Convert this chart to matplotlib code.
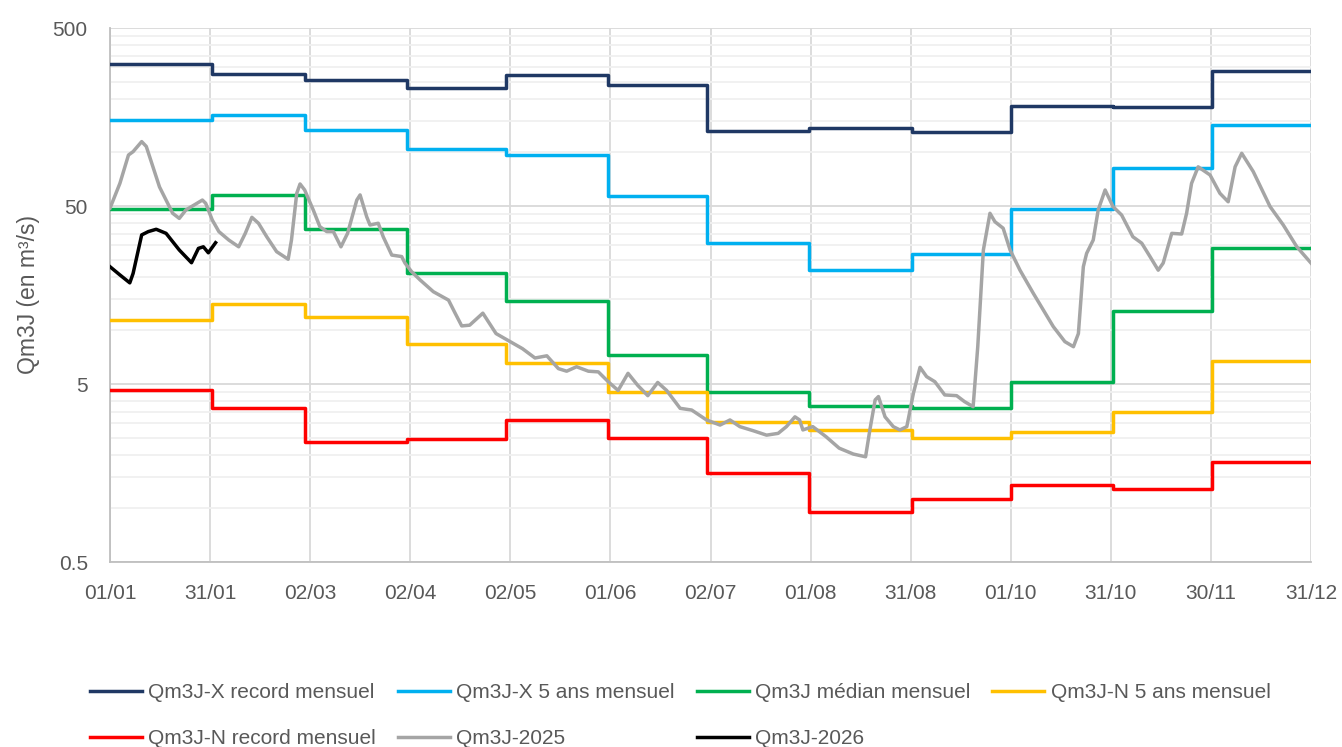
import numpy as np
import matplotlib
matplotlib.use("Agg")
import matplotlib.pyplot as plt
from matplotlib.ticker import FixedLocator, FixedFormatter, NullFormatter

# ---------------- data ----------------
months = ["Jan", "Feb", "Mar", "Apr", "May", "Jun", "Jul", "Aug", "Sep", "Oct", "Nov", "Dec"]
days_in_month = [31, 28, 31, 30, 31, 30, 31, 31, 30, 31, 30, 31]
x_ticklabels = ["01/01", "31/01", "02/03", "02/04", "02/05", "01/06", "02/07",
                "01/08", "31/08", "01/10", "31/10", "30/11", "31/12"]

rec_max = [314, 276, 255, 230, 272, 239, 132, 137, 130, 182, 180, 287]
x5_max = [152, 162, 134, 104, 97, 57, 31, 21.9, 27, 48, 82, 143]
median = [48, 58, 37, 21, 14.6, 7.3, 4.5, 3.76, 3.67, 5.1, 12.9, 29]
n5_min = [11.4, 14.1, 11.9, 8.4, 6.6, 4.5, 3.06, 2.76, 2.5, 2.7, 3.5, 6.7]
rec_min = [4.6, 3.67, 2.36, 2.44, 3.14, 2.5, 1.58, 0.955, 1.13, 1.36, 1.29, 1.82]

days_2025 = [0, 3, 5.6, 7, 9.6, 11, 13, 15, 17, 19, 21, 23, 25, 28, 29, 31, 33, 36, 39, 41,
             43, 45, 47.5, 50.5, 54, 55, 56.6, 57.6, 59, 61.6, 63.6, 65.7, 67.7, 70, 72, 74.8,
             75.8, 77.8, 78.8, 81.3, 82.8, 85.4, 88.4, 89.4, 91.4, 94, 98, 102.6, 104.6, 106.6,
             109, 113, 117, 122, 125, 128.8, 132.4, 135.9, 138.4, 141.4, 145, 148, 151, 154,
             157, 160, 163, 166, 168.7, 172.8, 176.3, 180.8, 184.9, 187.9, 190.9, 195, 199,
             202.5, 205, 207.6, 209, 210, 213, 217, 221, 225.3, 229, 230.3, 231.9, 232.9,
             234.9, 237.4, 239.4, 241.5, 243.5, 245.5, 247.5, 250, 253, 256.6, 259, 261.6,
             263, 264.7, 266.7, 268.2, 270.7, 272.8, 275.8, 279.8, 282.9, 285.9, 289.4, 292,
             293.5, 295, 296, 298, 299.5, 301.6, 304, 306.6, 310, 312.7, 315.2, 317.7, 319.2,
             321.8, 324.8, 326.3, 327.8, 329.8, 333.4, 336.4, 338.9, 341, 343, 346.5, 351.6,
             355.6, 359.7, 364]
q_2025 = [48.6, 67, 96.7, 101, 115, 108, 83, 64, 54, 45.5, 42.6, 47.5, 50, 54, 51.8, 41.7,
          35.9, 32.2, 29.5, 35.1, 43.2, 40, 33.6, 27.7, 25.1, 32.2, 58.9, 66.5, 61.5, 47.5,
          38.3, 35.9, 35.9, 29.5, 35.1, 54, 57.7, 43.5, 39.1, 40, 33.6, 26.5, 26, 23.9, 21.4,
          19.2, 16.5, 14.8, 12.5, 10.6, 10.7, 12.5, 9.6, 8.5, 7.9, 7.0, 7.2, 6.1, 5.9, 6.25,
          5.9, 5.85, 5.15, 4.6, 5.74, 4.9, 4.3, 5.1, 4.6, 3.65, 3.57, 3.14, 2.94, 3.14, 2.88,
          2.73, 2.58, 2.64, 2.88, 3.27, 3.14, 2.76, 2.88, 2.53, 2.18, 2.02, 1.95, 2.76, 4.07,
          4.25, 3.27, 2.88, 2.76, 2.88, 4.44, 6.2, 5.5, 5.15, 4.34, 4.3, 3.98, 3.73, 8.1,
          28.3, 45.5, 40.8, 37.5, 28.3, 21.8, 16.2, 13, 10.5, 8.65, 8.1, 9.6, 22.8, 27.1,
          32.2, 47.5, 61.5, 49.6, 44.5, 33.6, 30.9, 26, 21.8, 23.9, 35.1, 34.8, 45.5, 67, 83,
          74.7, 58.9, 52.8, 83, 98.9, 78, 49.6, 39.1, 29.5, 23.9]

days_2026 = [0, 3, 6, 7, 9.6, 11.6, 14, 17, 21, 24.7, 26.8, 28.3, 29.8, 32]
q_2026 = [22.8, 20.5, 18.5, 20.9, 34.4, 35.9, 37, 35.1, 28.3, 24, 28.9, 29.5, 27.3, 31.1]

y_major = [0.5, 5, 50, 500]
y_major_labels = ["0.5", "5", "50", "500"]

# ---------------- style ----------------
FONT = "Liberation Sans"
TXT = "#595959"
plt.rcParams["font.family"] = [FONT, "DejaVu Sans"]

fig = plt.figure(figsize=(13.42, 7.47), dpi=100)
ax = fig.add_axes([110 / 1342, 1 - 562 / 747, (1311 - 110) / 1342, (562 - 28) / 747])

month_starts = np.concatenate([[0], np.cumsum(days_in_month)[:-1]]).astype(float)
step_x = np.append(month_starts, 364)


def step_series(vals):
    return np.append(vals, vals[-1])


lw = 2.5
series = [
    ("Qm3J-X record mensuel", rec_max, "#1F3864"),
    ("Qm3J-X 5 ans mensuel", x5_max, "#00B0F0"),
    ("Qm3J médian mensuel", median, "#00B050"),
    ("Qm3J-N 5 ans mensuel", n5_min, "#FFC000"),
    ("Qm3J-N record mensuel", rec_min, "#FF0000"),
]
handles = []
for name, vals, col in series:
    h, = ax.step(step_x, step_series(vals), where="post", color=col, lw=lw, label=name, zorder=3)
    handles.append(h)

h25, = ax.plot(days_2025, q_2025, color="#A5A5A5", lw=lw, label="Qm3J-2025", zorder=4,
               solid_joinstyle="round")
h26, = ax.plot(days_2026, q_2026, color="#000000", lw=lw, label="Qm3J-2026", zorder=5,
               solid_joinstyle="round")
handles += [h25, h26]

ax.set_yscale("log")
ax.set_ylim(0.5, 500)
ax.set_xlim(0, 364)

ax.yaxis.set_major_locator(FixedLocator(y_major))
ax.yaxis.set_major_formatter(FixedFormatter(y_major_labels))
minor = [b * k for b in [0.5, 5, 50] for k in range(2, 10)]
ax.yaxis.set_minor_locator(FixedLocator(minor))
ax.yaxis.set_minor_formatter(NullFormatter())

xt = np.linspace(0, 364, len(x_ticklabels))
ax.set_xticks(xt)
ax.set_xticklabels(x_ticklabels)

ax.grid(True, which="major", axis="both", color="#D9D9D9", lw=1.3, zorder=0)
ax.grid(True, which="minor", axis="y", color="#F0F0F0", lw=1.3, zorder=0)
ax.set_axisbelow(True)

for s in ["top", "right"]:
    ax.spines[s].set_visible(False)
for s in ["left", "bottom"]:
    ax.spines[s].set_color("#BFBFBF")
    ax.spines[s].set_linewidth(1.3)

ax.tick_params(axis="both", which="both", length=0, labelsize=15, colors=TXT)
ax.tick_params(axis="x", pad=16)
ax.tick_params(axis="y", pad=16)

ax.set_ylabel("Qm3J (en m³/s)", fontsize=16.5, color=TXT, labelpad=9)

# legend: fill row-wise (4 columns)
order = [0, 4, 1, 5, 2, 6, 3]
leg = fig.legend([handles[i] for i in order], [handles[i].get_label() for i in order],
                 ncol=4, loc="center", bbox_to_anchor=(0.507, 0.042), frameon=False,
                 fontsize=15, handlelength=2.5, handletextpad=0.3, columnspacing=1.05,
                 labelspacing=1.3, borderpad=0)
for t in leg.get_texts():
    t.set_color(TXT)

fig.savefig("out.png", dpi=100)
